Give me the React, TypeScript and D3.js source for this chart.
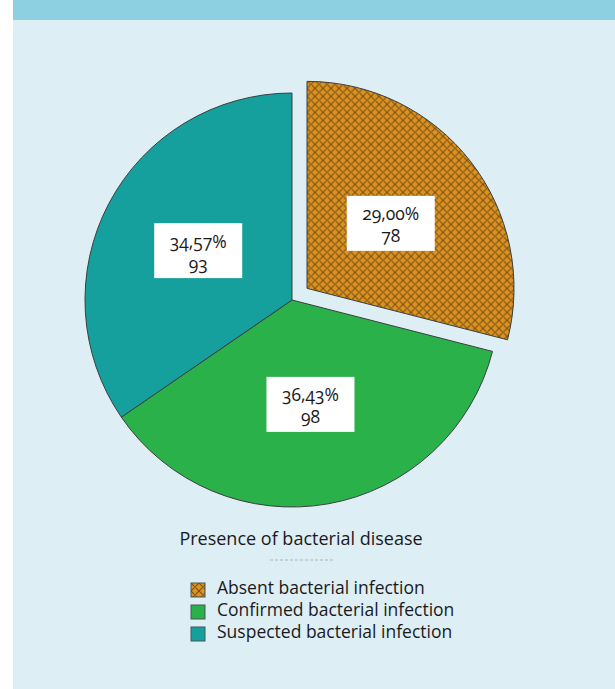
import React, { useEffect, useRef } from 'react';
import * as d3 from 'd3';

const categories = ['Absent bacterial infection', 'Confirmed bacterial infection', 'Suspected bacterial infection'];
const counts = [78, 98, 93];
const fills = ['url(#hatch)', '#2bb14a', '#15a09e'];
const legendTitle = 'Presence of bacterial disease';

const W = 615;
const H = 689;
const FONT = '"Open Sans", Lato, sans-serif';

const App: React.FC = () => {
  const ref = useRef<SVGSVGElement | null>(null);

  useEffect(() => {
    const svg = d3.select(ref.current);
    svg.selectAll('*').remove();

    // background panel
    svg.append('rect').attr('width', W).attr('height', H).attr('fill', '#ffffff');
    svg.append('rect').attr('x', 13).attr('y', 0).attr('width', W - 13).attr('height', H).attr('fill', '#deeef5');
    svg.append('rect').attr('x', 13).attr('y', 0).attr('width', W - 13).attr('height', 20).attr('fill', '#8dd0e2');

    // pattern for the "absent" slice
    const defs = svg.append('defs');
    const pat = defs
      .append('pattern')
      .attr('id', 'hatch')
      .attr('patternUnits', 'userSpaceOnUse')
      .attr('width', 8)
      .attr('height', 8);
    pat.append('rect').attr('width', 8).attr('height', 8).attr('fill', '#dc921f');
    pat
      .append('path')
      .attr('d', 'M0,0L8,8M8,0L0,8')
      .attr('stroke', '#7a5216')
      .attr('stroke-width', 1.1)
      .attr('fill', 'none');
    pat
      .append('path')
      .attr('d', 'M4,2.8V5.2M2.8,4H5.2')
      .attr('stroke', '#f0ae44')
      .attr('stroke-width', 0.8);
    pat.append('rect').attr('x', 3.3).attr('y', 3.3).attr('width', 1.4).attr('height', 1.4).attr('fill', '#5e3e10');

    const cx = 292;
    const cy = 300;
    const r = 207;
    const explode = 19;
    const labelR = 106;
    const total = d3.sum(counts);

    const pie = d3.pie<number>().sort(null).value((d) => d);
    const arcs = pie(counts);
    const arc = d3.arc<d3.PieArcDatum<number>>().innerRadius(0).outerRadius(r);
    const labelArc = d3.arc<d3.PieArcDatum<number>>().innerRadius(labelR).outerRadius(labelR);

    const g = svg.append('g').attr('transform', `translate(${cx},${cy})`);

    const slice = g
      .selectAll('g.slice')
      .data(arcs)
      .enter()
      .append('g')
      .attr('class', 'slice')
      .attr('transform', (d, i) => {
        if (i !== 0) return null;
        const a = (d.startAngle + d.endAngle) / 2;
        return `translate(${Math.sin(a) * explode},${-Math.cos(a) * explode})`;
      });

    slice
      .append('path')
      .attr('d', arc)
      .attr('fill', (d, i) => fills[i])
      .attr('stroke', '#3b3f3f')
      .attr('stroke-width', 1);

    const fmt = (v: number) => ((v / total) * 100).toFixed(2).replace('.', ',') + '%';
    const boxW = 88;
    const boxH = 55;

    const lab = slice
      .append('g')
      .attr('transform', (d) => {
        const [x, y] = labelArc.centroid(d);
        return `translate(${x},${y})`;
      });
    lab
      .append('rect')
      .attr('x', -boxW / 2)
      .attr('y', -boxH / 2)
      .attr('width', boxW)
      .attr('height', boxH)
      .attr('fill', '#ffffff');
    lab
      .append('text')
      .attr('text-anchor', 'middle')
      .attr('y', -3)
      .attr('font-family', FONT)
      .attr('font-size', 17.5)
      .style('font-variant-numeric', 'oldstyle-nums')
      .attr('fill', '#1a1a1a')
      .text((d) => fmt(d.data));
    lab
      .append('text')
      .attr('text-anchor', 'middle')
      .attr('y', 19)
      .attr('font-family', FONT)
      .attr('font-size', 17.5)
      .style('font-variant-numeric', 'oldstyle-nums')
      .attr('fill', '#1a1a1a')
      .text((d) => String(d.data));

    // legend
    svg
      .append('text')
      .attr('x', 301)
      .attr('y', 545)
      .attr('text-anchor', 'middle')
      .attr('font-family', FONT)
      .attr('font-size', 18)
      .attr('fill', '#1a1a1a')
      .text(legendTitle);
    svg
      .append('line')
      .attr('x1', 270)
      .attr('x2', 334)
      .attr('y1', 560)
      .attr('y2', 560)
      .attr('stroke', '#a9b8bf')
      .attr('stroke-width', 1)
      .attr('stroke-dasharray', '3,2');

    const leg = svg
      .selectAll('g.leg')
      .data(categories)
      .enter()
      .append('g')
      .attr('class', 'leg')
      .attr('transform', (d, i) => `translate(191,${583 + i * 22})`);
    leg
      .append('rect')
      .attr('width', 14)
      .attr('height', 14)
      .attr('fill', (d, i) => fills[i])
      .attr('stroke', '#4a5456')
      .attr('stroke-width', 1);
    leg
      .append('text')
      .attr('x', 26)
      .attr('y', 11)
      .attr('font-family', FONT)
      .attr('font-size', 17.5)
      .attr('fill', '#1a1a1a')
      .text((d) => d);
  }, []);

  return <svg ref={ref} width={W} height={H} style={{ position: 'absolute', left: 0, top: 0 }} />;
};

export default App;
